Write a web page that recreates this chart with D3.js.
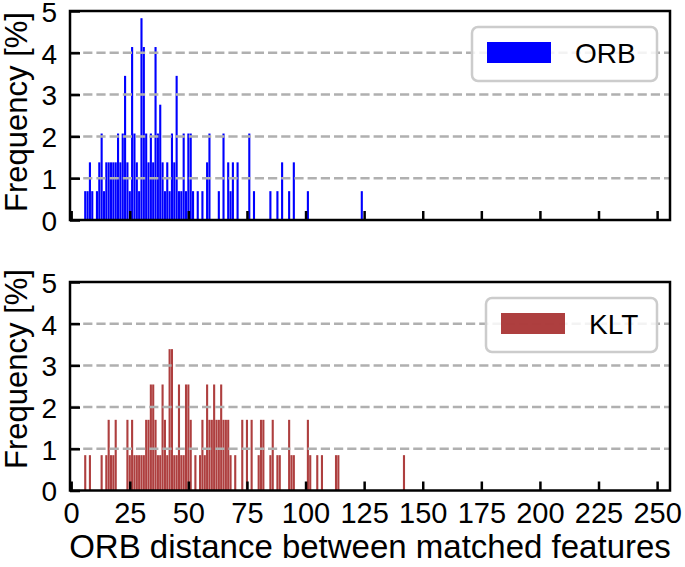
<!DOCTYPE html>
<html>
<head>
<meta charset="utf-8">
<script src="https://cdn.jsdelivr.net/npm/d3@7"></script>
<style>
  html, body { margin: 0; padding: 0; background: #fff; }
  svg { display: block; }
  text { font-family: "Liberation Sans", Arial, Helvetica, sans-serif; fill: #000; }
</style>
</head>
<body>
<svg id="chart" width="685" height="567"></svg>
<script>
// ---------------- data ----------------
// ORB distance (integer bin) and number of matches in that bin
const orbDistances = [6,7,8,9,11,12,13,14,15,16,17,18,19,20,21,22,23,24,25,26,27,28,29,30,31,32,33,34,35,36,37,38,39,40,41,42,43,44,45,46,47,48,49,50,51,52,54,56,58,59,63,65,67,68,69,71,76,78,85,88,90,93,95,101,124];
const orbCounts    = [1,1,2,1,1,2,3,1,2,2,2,2,2,3,2,3,5,2,1,6,3,2,1,7,6,3,2,3,2,6,3,4,2,1,2,1,3,2,5,1,1,3,1,3,3,1,1,1,2,3,1,3,2,1,2,2,3,1,1,1,2,1,2,1,1];
const orbTotal = 145;

const kltDistances = [6,8,13,15,16,17,18,19,24,25,26,27,28,29,30,31,32,33,34,35,36,37,38,39,40,41,42,43,44,45,46,47,48,49,50,51,53,55,56,57,58,59,60,61,62,63,64,65,66,67,68,70,73,75,77,80,81,82,85,86,88,89,93,94,95,101,102,105,107,113,114,142];
const kltCounts    = [1,1,1,1,2,1,1,2,2,1,2,1,1,1,1,1,2,2,3,3,2,1,1,3,2,1,4,4,1,1,3,1,1,3,3,2,1,1,2,1,3,2,2,3,2,2,3,2,2,2,1,1,2,2,2,1,2,2,1,2,1,1,2,1,1,2,1,1,1,1,1,1];
const kltTotal = 118;

const xTicks = [0,25,50,75,100,125,150,175,200,225,250];
const yTicks = [0,1,2,3,4,5];
const yGrid  = [1,2,3,4];
const seriesNames = ["ORB", "KLT"];
const seriesColors = ["#0000ff", "#a52a2a"];
const xLabel = "ORB distance between matched features";
const yLabel = "Frequency [%]";

// ---------------- layout ----------------
const svg = d3.select("#chart");
const X0 = 70, X1 = 670;
const panels = [
  { top: 11, bottom: 220, dist: orbDistances, cnt: orbCounts, total: orbTotal, name: seriesNames[0], color: seriesColors[0], opacity: 1,
    showXLabels: false, legend: {x: 472, y: 27, w: 185, h: 54}, ylabelY: 112 },
  { top: 282, bottom: 490.5, dist: kltDistances, cnt: kltCounts, total: kltTotal, name: seriesNames[1], color: seriesColors[1], opacity: 0.9,
    showXLabels: true, legend: {x: 486, y: 298, w: 171, h: 54}, ylabelY: 369 }
];

const x = d3.scaleLinear().domain([-0.5, 255.5]).range([X0, X1]);
const unitW = x(1) - x(0);
const barW = unitW * 0.9;

panels.forEach(p => {
  const y = d3.scaleLinear().domain([0, 5]).range([p.bottom, p.top]);
  const g = svg.append("g");
  const data = p.dist.map((d, i) => ({ d, v: p.cnt[i] / p.total * 100 }));

  // bars
  g.append("g").selectAll("rect").data(data).enter().append("rect")
    .attr("x", d => x(d.d) - barW / 2)
    .attr("width", barW)
    .attr("y", d => y(d.v))
    .attr("height", d => y(0) - y(d.v))
    .attr("fill", p.color)
    .attr("fill-opacity", p.opacity);

  // grid (over bars)
  g.append("g").selectAll("line").data(yGrid).enter().append("line")
    .attr("x1", X0).attr("x2", X1)
    .attr("y1", d => y(d)).attr("y2", d => y(d))
    .attr("stroke", "#b0b0b0").attr("stroke-width", 2.5)
    .attr("stroke-dasharray", "9.2,4");

  // x axis (inward ticks)
  const xa = d3.axisBottom(x).tickValues(xTicks).tickSizeInner(-9).tickSizeOuter(0).tickPadding(12)
    .tickFormat(p.showXLabels ? d3.format("d") : () => "");
  const gx = g.append("g").attr("transform", `translate(0,${p.bottom})`).call(xa);
  gx.select(".domain").remove();
  gx.selectAll(".tick line").attr("stroke", "#000").attr("stroke-width", 2.5);
  gx.selectAll(".tick text").style("font-size", "29px").attr("font-family", null);

  // y axis (inward ticks)
  const ya = d3.axisLeft(y).tickValues(yTicks).tickSizeInner(-10).tickSizeOuter(0).tickPadding(13)
    .tickFormat(d3.format("d"));
  const gy = g.append("g").attr("transform", `translate(${X0},0)`).call(ya);
  gy.select(".domain").remove();
  gy.selectAll(".tick line").attr("stroke", "#000").attr("stroke-width", 2.5);
  gy.selectAll(".tick text").style("font-size", "28px").attr("font-family", null).attr("dy", "0.37em");

  // frame
  g.append("rect")
    .attr("x", X0).attr("y", p.top)
    .attr("width", X1 - X0).attr("height", p.bottom - p.top)
    .attr("fill", "none").attr("stroke", "#000").attr("stroke-width", 2.5);

  // y label
  g.append("text")
    .attr("transform", `translate(27,${p.ylabelY}) rotate(-90)`)
    .attr("text-anchor", "middle")
    .style("font-size", "31px")
    .text(yLabel);

  // legend
  const L = p.legend;
  const lg = g.append("g");
  lg.append("rect")
    .attr("x", L.x).attr("y", L.y).attr("width", L.w).attr("height", L.h)
    .attr("rx", 6).attr("ry", 6)
    .attr("fill", "#fff").attr("fill-opacity", 0.85)
    .attr("stroke", "#cccccc").attr("stroke-width", 2.5);
  lg.append("rect")
    .attr("x", L.x + 15).attr("y", L.y + 15).attr("width", 64).attr("height", 21)
    .attr("fill", p.color).attr("fill-opacity", p.opacity);
  lg.append("text")
    .attr("x", L.x + 103).attr("y", L.y + 26)
    .attr("dy", "0.36em")
    .style("font-size", "28px")
    .text(p.name);
});

// x label
svg.append("text")
  .attr("x", (X0 + X1) / 2).attr("y", 558)
  .attr("text-anchor", "middle")
  .style("font-size", "33px")
  .text(xLabel);
</script>
</body>
</html>
